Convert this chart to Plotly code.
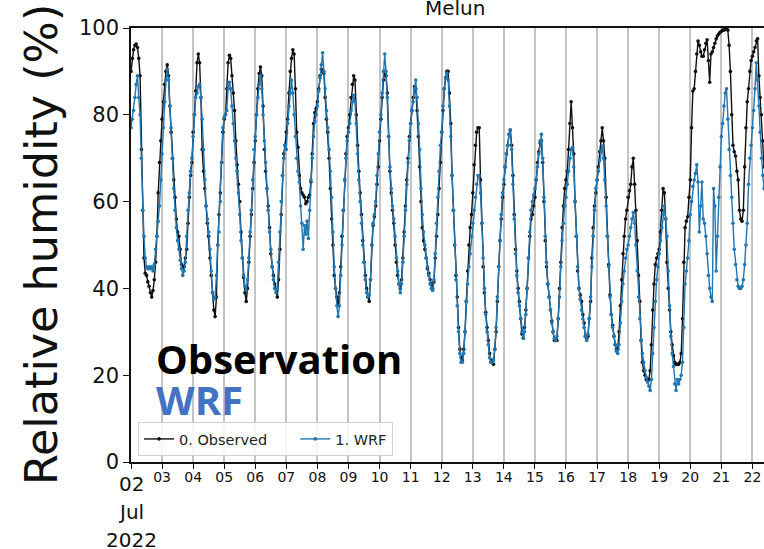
import pandas as pd
import plotly.graph_objects as go

# ---------------- data (hourly values) ----------------
start_time = "2022-07-02 00:00"
series_names = ["0. Observed", "1. WRF"]

observed = [
    90, 93, 95, 96, 96.3, 95.5, 93, 89, 72, 58, 47, 43.5, 43, 41.5, 40.5, 39, 38, 39.5, 42, 46, 52, 62, 69, 74,          # 02
    79, 83, 87, 90, 91.5, 89, 82, 76, 70, 65, 61, 56, 53, 52, 49, 45.5, 44.7, 45, 47, 49, 55, 61, 66, 69,                 # 03
    76, 80, 85.5, 92, 94, 92, 84, 72, 67, 63, 59, 55, 52, 47, 43, 39, 35, 33.5, 38, 50, 57, 62, 69, 76,                   # 04
    79, 80, 86, 92, 93.7, 93, 89, 85, 81, 74, 68.5, 64, 60, 53, 47, 42.5, 39, 37, 40, 46, 52, 57, 63, 69,                 # 05
    74, 80, 86, 89.5, 91, 89, 82, 72, 67, 63, 59, 54, 48, 45, 43, 41, 40, 38, 42, 49, 57, 66, 71, 73,                     # 06
    76, 79, 85, 90, 93, 95, 94, 86, 76, 72.5, 66, 63, 62, 61.5, 61, 59.5, 60, 61, 61.5, 64.5, 71, 78, 80.5, 81.5,         # 07
    83, 86, 89, 90.5, 90, 89.5, 84, 79, 76, 70, 63, 56, 50, 43, 40, 38, 36, 39, 45, 52, 58, 65, 71, 75,                   # 08
    77, 80, 84, 87, 89, 88, 80, 73, 67, 62, 57, 51, 46, 43, 40, 38, 37, 42, 50, 54.5, 56.5, 59, 64, 68,                   # 09
    74, 79, 84, 88, 90, 89, 85, 75, 67, 62, 58, 55, 50, 46, 43, 41, 40, 42, 47, 53, 59, 65, 70, 75,                       # 10
    78, 81, 84, 86.5, 86, 81, 75, 68, 60, 54, 51, 49, 47, 44.5, 43.5, 42, 41, 40, 41.5, 47, 52, 57, 63, 69,               # 11
    76, 81, 86, 88.5, 90, 90, 85, 78, 66, 58, 50, 43, 38, 31, 26, 24, 23.5, 26, 30, 37, 44, 50, 54, 57,                   # 12
    62, 68.5, 73, 76, 77, 77, 65, 55, 45, 39, 34.5, 31, 28, 25, 23, 23.5, 22.5, 26, 30, 37, 45, 51, 56, 61,               # 13
    64, 68, 71, 73, 75.5, 76.5, 73, 66, 57, 49, 44, 40, 37, 33, 29.5, 28.5, 31, 35, 40, 47, 52, 56, 57, 59,               # 14
    61, 65, 69, 71.5, 73.5, 74, 69, 60, 51, 45, 41, 38, 35, 32.5, 30, 28, 28, 28, 33, 40, 46, 54, 59, 63,                 # 15
    65, 67, 72, 78, 83, 77, 71, 60, 52, 44, 40, 38.5, 37, 34, 32, 29, 28.5, 29, 33, 37, 47, 54, 59, 62,                   # 16
    65, 68, 71.5, 74, 77, 74, 70, 61, 52, 45.5, 38.5, 34, 31.5, 29, 27, 26, 26, 30, 36, 42, 48, 52, 56, 58,               # 17
    61, 62.5, 64, 68, 70, 64, 58, 51, 43, 37, 28, 23, 21, 20, 19, 18.5, 19, 21, 27, 35, 41, 45.5, 47, 48,                 # 18
    49, 53, 58, 63, 62, 56, 46, 40, 35, 30, 27, 24.5, 23, 22.5, 22.5, 22.5, 23, 25, 33, 46, 54, 55.5, 56.5, 61,           # 19
    65, 77, 85.5, 86, 90, 94, 97, 96, 94.5, 93.5, 93.5, 95, 96.5, 97.3, 92.5, 87.5, 94, 94.5, 95.5, 96.5, 97.5, 98.2, 98.6, 99,  # 20
    99.2, 99.5, 99.5, 99.7, 99.8, 99.5, 96, 90, 80, 73, 71.5, 70.5, 67, 65, 58, 56, 55.5, 58, 68, 77, 83, 86, 90, 92.5,   # 21
    93.5, 94.5, 95.5, 97, 97.5, 89, 84, 80, 74, 68,                                                                        # 22
]

wrf = [
    77, 79, 81, 84, 87, 89, 84, 80, 70, 58, 52, 47, 45, 44.5, 45, 44.5, 45, 44, 45.5, 49, 52, 55.5, 59, 65,               # 02
    71, 77, 83, 88, 90.5, 88, 82, 77, 70, 63, 58, 54, 51, 49, 46.5, 44.5, 43, 44, 46, 52, 58, 62, 67, 70,                 # 03
    75, 80, 84, 85, 86.5, 87, 84, 79, 72, 65, 59, 56, 53, 49, 44, 39, 37.5, 38, 43, 50, 53, 60, 69, 77,                   # 04
    79.5, 80, 81, 86, 87.5, 86, 82, 78, 74, 70, 67, 62, 57, 51, 47, 43, 40.5, 39.5, 42, 47, 53, 58, 65, 72,               # 05
    75, 80, 84, 87, 89, 86, 80, 74, 69, 63, 58, 53, 49, 45, 42, 40, 39, 40, 46, 53, 60, 66, 70, 73,                       # 06
    72, 78, 82, 85, 88, 85, 80, 75, 70, 67, 64.5, 59, 55, 49, 54.5, 52.5, 55.5, 51.5, 58, 65, 70, 75, 78.5, 80,           # 07
    82, 85.5, 88.5, 91.5, 94.3, 90, 86, 81, 77, 72, 67, 61, 53, 45, 40, 36, 33.5, 36, 43, 50, 58, 65, 70, 74,             # 08
    76, 78, 81, 83, 84.5, 83, 78, 71, 65, 60, 55, 50, 46, 42, 39, 38, 38.5, 42, 50, 55, 57, 60, 66, 71,                   # 09
    76, 80, 85, 90, 94, 90, 84, 75, 68, 63, 59, 56, 52, 47, 44, 41, 39, 41, 46, 52, 58, 64, 69, 74,                       # 10
    78, 81, 83, 86, 88, 84, 78, 72, 63, 57, 53, 50, 47, 45, 43, 41, 40, 39.5, 42, 48, 55, 61, 67, 73,                     # 11
    76, 82, 86, 88.5, 89.6, 88, 82, 75, 66, 58, 50, 42, 36, 30, 25, 23, 23, 25, 30, 37, 41, 45, 48, 52,                   # 12
    55, 58, 61, 64, 66, 66, 62, 55, 47, 40, 34, 30, 27, 24, 23, 23, 23.5, 26, 31, 38, 45, 51, 57, 62,                     # 13
    65, 68, 71, 73, 75.5, 76.5, 72, 64, 56, 48, 43, 39, 36, 33, 30, 28.5, 30, 34, 40, 47, 53, 58, 60, 61.5,               # 14
    63, 65, 68, 71, 74, 75.5, 70, 61, 52, 46, 41, 38, 35, 32, 30, 28.5, 28, 29, 33, 38, 45, 51, 55, 59,                   # 15
    61, 64, 67, 70, 72, 72.5, 68, 60, 52, 45, 40, 37.5, 35, 33, 31, 29, 28, 29.5, 33, 38, 45, 52, 58, 63,                 # 16
    65, 67, 69.5, 71.5, 72.8, 70, 65, 59, 52, 45, 38, 34, 31, 29, 27, 25.5, 25, 27, 32, 37, 41, 44, 47, 49,               # 17
    50, 52, 54, 56, 57.5, 55, 50, 44, 38, 33, 28, 25, 23, 21, 19.5, 18.5, 17.5, 16.5, 19, 25, 31, 37, 42, 45,             # 18
    48, 51, 54, 57, 59, 56, 52, 44, 36, 29, 25, 22, 18, 16.5, 19, 18, 19, 20, 23, 31, 41, 44, 47, 51,                     # 19
    57, 60, 63.5, 65, 66.5, 68.5, 64.5, 53, 59, 64.5, 56, 55, 52, 48, 43, 40, 38, 37, 63, 59, 44, 52, 61, 68,             # 20
    75, 78, 82, 85, 86, 79, 72, 66, 61, 55, 49, 45.5, 42, 40.5, 40, 40, 40.5, 42, 45.5, 50, 55, 64, 70, 73,               # 21
    77, 81, 86, 92, 88, 82, 76, 70, 66, 63,                                                                                # 22
]

day_ticks = [f"2022-07-{d:02d}" for d in range(2, 23)]
day_labels = [""] + [f"{d:02d}" for d in range(3, 23)]
first_label = ["02", "Jul", "2022"]
y_ticks = [0, 20, 40, 60, 80, 100]

# ---------------- figure ----------------
W, H = 764, 549
L, R, T, B = 131, 0, 28, 87
PW, PH = W - L - R, H - T - B


def px(x):
    return (x - L) / PW


def py(y):
    return (H - B - y) / PH


t_obs = pd.date_range(start_time, periods=len(observed), freq="h")
t_wrf = pd.date_range(start_time, periods=len(wrf), freq="h")

legend_pad = "&nbsp;" * 5

fig = go.Figure()
fig.add_trace(go.Scatter(
    x=t_obs, y=observed, name=series_names[0] + legend_pad, mode="lines+markers",
    line=dict(color="#111111", width=1.4), marker=dict(color="#111111", size=3.6),
))
fig.add_trace(go.Scatter(
    x=t_wrf, y=wrf, name=series_names[1], mode="lines+markers",
    line=dict(color="#1f77b4", width=1.4), marker=dict(color="#1f77b4", size=3.6),
))

fig.update_layout(
    width=W, height=H,
    margin=dict(l=L, r=R, t=T, b=B, pad=0, autoexpand=False),
    paper_bgcolor="white", plot_bgcolor="white",
    font=dict(family="DejaVu Sans", color="#111111"),
    showlegend=True,
    legend=dict(
        orientation="h", x=px(138), y=py(456), xanchor="left", yanchor="bottom",
        bgcolor="rgba(255,255,255,0.85)", bordercolor="#d0d0d0", borderwidth=1,
        font=dict(family="DejaVu Sans", size=14.5, color="#222222"),
        itemwidth=30,
    ),
)

fig.update_xaxes(
    type="date", automargin=False,
    range=["2022-07-02 00:00", "2022-07-22 08:57"],
    tickmode="array", tickvals=day_ticks, ticktext=day_labels,
    tickfont=dict(size=14, family="DejaVu Sans", color="#111111"),
    ticks="outside", ticklen=5, tickcolor="#111111", tickwidth=1.2,
    ticklabelstandoff=-4,
    showgrid=True, gridcolor="#c4c4c4", gridwidth=1.5,
    showline=True, linecolor="#111111", linewidth=1.5, mirror=True,
    zeroline=False,
)
fig.update_yaxes(
    range=[0, 100], tickmode="array", tickvals=y_ticks, automargin=False,
    tickfont=dict(size=21, family="DejaVu Sans", color="#111111"),
    ticks="outside", ticklen=6, tickcolor="#111111", tickwidth=1.2,
    showgrid=False, zeroline=False,
    showline=True, linecolor="#111111", linewidth=1.5,
)

annotations = []
# first (major) tick label
for i, txt in enumerate(first_label):
    annotations.append(dict(
        x=px(131), y=py(484 + 28 * i), xref="paper", yref="paper",
        text=txt, showarrow=False, xanchor="center", yanchor="middle",
        font=dict(size=20, family="DejaVu Sans", color="#111111"),
    ))
# y axis title
annotations.append(dict(
    x=px(41), y=py(245), xref="paper", yref="paper",
    text="Relative humidity (%)", textangle=-90, showarrow=False,
    xanchor="center", yanchor="middle",
    font=dict(size=44.5, family="DejaVu Sans", color="#111111"),
))
# chart title (cut off at the top)
annotations.append(dict(
    x=px(455), y=py(7.5), xref="paper", yref="paper",
    text="Melun", showarrow=False, xanchor="center", yanchor="middle",
    font=dict(size=20, family="DejaVu Sans", color="#111111"),
))
# overlay labels
annotations.append(dict(
    x=px(154), y=py(358), xref="paper", yref="paper",
    text="<b>Observation</b>", showarrow=False, xanchor="left", yanchor="middle",
    font=dict(size=40, family="Open Sans", color="#000000"),
))
annotations.append(dict(
    x=px(154), y=py(399), xref="paper", yref="paper",
    text="<b>WRF</b>", showarrow=False, xanchor="left", yanchor="middle",
    font=dict(size=40, family="Open Sans", color="#4472C4"),
))
fig.update_layout(annotations=annotations)

fig.write_html(
    "out.html",
    config={"displayModeBar": False},
    post_script="document.body.style.margin='0px';document.documentElement.style.margin='0px';",
)
